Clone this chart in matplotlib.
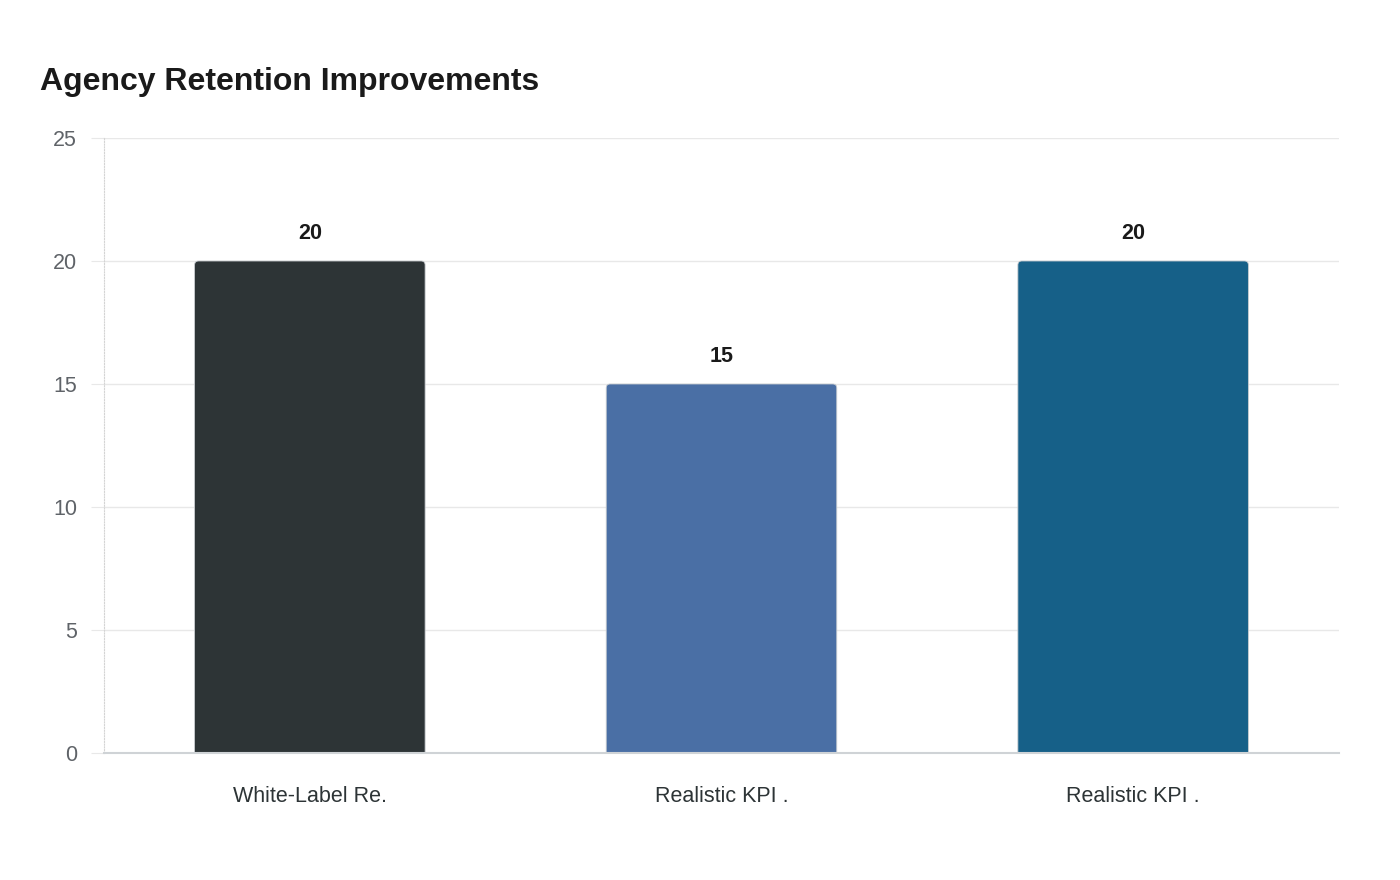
import numpy as np
import matplotlib.pyplot as plt
from matplotlib.patches import FancyBboxPatch

plt.rcParams['font.family'] = ['Liberation Sans', 'DejaVu Sans']

categories = ['White-Label Re.', 'Realistic KPI .', 'Realistic KPI .']
values = [20, 15, 20]
colors = ['#2d3436', '#4a6fa5', '#166088']
y_ticks = [0, 5, 10, 15, 20, 25]

fig = plt.figure(figsize=(14, 8.8), dpi=100)
ax = fig.add_axes([0.0743, 0.1443, 0.8821, 0.6989])

x = np.arange(len(categories))
bar_w = 0.56
ymax = 25

ax.set_xlim(-0.5, len(categories) - 0.5)
ax.set_ylim(0, ymax)

# rounded top corners; aspect so the rounding looks circular in pixels
px_x = ax.get_position().width * 1400 / (len(categories))
px_y = ax.get_position().height * 880 / ymax
aspect = px_x / px_y
r = 4 / px_x

for xi, v, c in zip(x, values, colors):
    p = FancyBboxPatch((xi - bar_w / 2, -2), bar_w, v + 2,
                       boxstyle=f"round,pad=0,rounding_size={r}",
                       mutation_aspect=aspect,
                       facecolor=c, edgecolor='#c8ccd0', linewidth=0.6,
                       zorder=3)
    ax.add_patch(p)
    ax.annotate(f'{v}', (xi, v), xytext=(0, 20), textcoords='offset points',
                ha='center', va='center', fontsize=15.5, fontweight='bold',
                color='#1a1a1a')

ax.set_yticks(y_ticks)
ax.set_xticks(x)
ax.set_xticklabels(categories, fontsize=15.5, color='#2d3436')
ax.yaxis.grid(True, color='#e8e8e8', linewidth=1, zorder=0)
ax.set_axisbelow(True)

ax.tick_params(axis='y', length=9.5, color='#e8e8e8', labelsize=15.5,
               labelcolor='#5f6368', pad=10)
ax.tick_params(axis='x', length=0, pad=24)

for s in ['top', 'right']:
    ax.spines[s].set_visible(False)
ax.spines['left'].set_color('#d4d4d4')
ax.spines['left'].set_linestyle((0, (1, 1.5)))
ax.spines['left'].set_linewidth(0.8)
ax.spines['bottom'].set_color('#cfd3d6')
ax.spines['bottom'].set_linewidth(1.5)
ax.spines['bottom'].set_zorder(4)

fig.text(0.0286, 0.907, 'Agency Retention Improvements', fontsize=23,
         fontweight='bold', color='#1a1a1a', ha='left', va='center')

fig.savefig('out.png', dpi=100, facecolor='white')
